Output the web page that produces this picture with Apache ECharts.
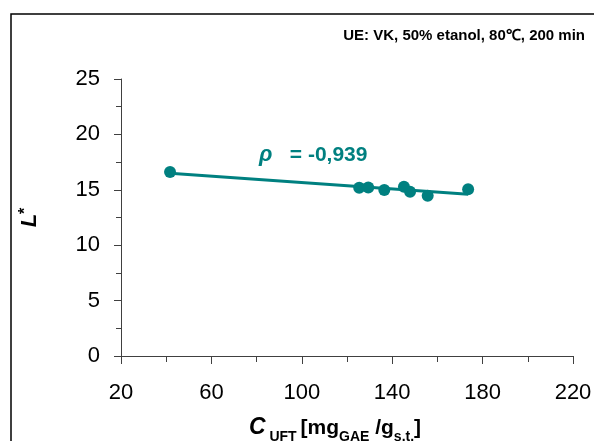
<!DOCTYPE html>
<html><head><meta charset="utf-8">
<script src="https://cdn.jsdelivr.net/npm/echarts@6/dist/echarts.min.js"></script>
<style>html,body{margin:0;padding:0;background:#fff}#c{width:594px;height:441px}</style>
</head><body><div id="c"></div>
<script>
var cuft = [41.7, 125.4, 129.4, 136.5, 145.2, 147.9, 155.7, 173.6];
var lstar = [16.6, 15.19, 15.2, 14.98, 15.28, 14.83, 14.47, 15.04];
var xMajorTicks = [20, 60, 100, 140, 180, 220];
var xMinorTicks = [40, 80, 120, 160, 200];
var titleText = 'UE: VK, 50% etanol, 80\u2103, 200 min';
var rhoText = '= -0,939';
var teal = '#008080';
var FONT = 'Arial, "Liberation Sans", sans-serif';

var pts = cuft.map(function (x, i) { return [x, lstar[i]]; });
var n = cuft.length, mx = 0, my = 0;
for (var i = 0; i < n; i++) { mx += cuft[i]; my += lstar[i]; }
mx /= n; my /= n;
var sxy = 0, sxx = 0;
for (i = 0; i < n; i++) { sxy += (cuft[i] - mx) * (lstar[i] - my); sxx += (cuft[i] - mx) * (cuft[i] - mx); }
var slope = sxy / sxx, icpt = my - slope * mx;
var x0 = Math.min.apply(null, cuft), x1 = Math.max.apply(null, cuft);
var fit = [[x0, icpt + slope * x0], [x1, icpt + slope * x1]];

var axisCol = '#404040';
var chart = echarts.init(document.getElementById('c'), null, {renderer: 'canvas'});
chart.setOption({
  animation: false,
  grid: {left: 121, right: 21, top: 79, bottom: 85, outerBoundsMode: 'none', containLabel: false},
  xAxis: [{
    type: 'value', min: 20, max: 220,
    axisLine: {show: true, lineStyle: {color: axisCol, width: 1}},
    axisTick: {show: true, inside: false, length: 8, customValues: xMajorTicks, lineStyle: {color: axisCol}},
    axisLabel: {customValues: xMajorTicks, margin: 26, color: '#000', fontSize: 22, fontFamily: FONT},
    splitLine: {show: false},
    name: '{c|C}{sub| UFT }{m|[mg}{sub|GAE}{m| /g}{sub|s.t.}{m|]}',
    nameLocation: 'middle', nameGap: 57,
    nameTextStyle: {
      fontFamily: FONT, color: '#000', padding: [0, 24, 0, 0],
      rich: {
        c: {fontSize: 23, fontWeight: 'bold', fontStyle: 'italic', fontFamily: FONT, lineHeight: 26, verticalAlign: 'bottom'},
        m: {fontSize: 21, fontWeight: 'bold', fontFamily: FONT, lineHeight: 26, verticalAlign: 'bottom'},
        sub: {fontSize: 14, fontWeight: 'bold', fontFamily: FONT, lineHeight: 14, verticalAlign: 'bottom', padding: [0, 0, -5, 0]}
      }
    }
  }, {
    type: 'value', min: 20, max: 220, position: 'bottom',
    axisLine: {show: false},
    axisTick: {show: true, inside: false, length: 6, customValues: xMinorTicks, lineStyle: {color: axisCol}},
    axisLabel: {show: false},
    splitLine: {show: false}
  }],
  yAxis: {
    type: 'value', min: 0, max: 25, interval: 5,
    axisLine: {show: true, lineStyle: {color: axisCol, width: 1}},
    axisTick: {show: true, inside: false, length: 7, lineStyle: {color: axisCol}},
    minorTick: {show: true, splitNumber: 2, length: 5, lineStyle: {color: axisCol}},
    axisLabel: {margin: 21, color: '#000', fontSize: 22, fontFamily: FONT},
    splitLine: {show: false},
    name: '{l|L}{s|*}',
    nameLocation: 'middle', nameRotate: 90, nameGap: 79,
    nameTextStyle: {
      rich: {
        l: {fontSize: 22, fontWeight: 'bold', fontStyle: 'italic', fontFamily: FONT, color: '#000', lineHeight: 24},
        s: {fontSize: 16, fontWeight: 'bold', fontFamily: FONT, color: '#000', lineHeight: 24, verticalAlign: 'top', padding: [0, 0, 6, 0]}
      }
    }
  },
  series: [{
    type: 'line', data: fit, showSymbol: false, symbol: 'none',
    lineStyle: {color: teal, width: 3}, z: 2
  }, {
    type: 'scatter', data: pts, symbol: 'circle', symbolSize: 12,
    itemStyle: {color: teal, opacity: 1}, z: 3
  }],
  graphic: [{
    type: 'rect', shape: {x: 11, y: 14, width: 700, height: 600},
    style: {fill: 'none', stroke: '#000', lineWidth: 1.5}, silent: true
  }, {
    type: 'text', right: 9, top: 28,
    style: {text: titleText, font: 'bold 15px ' + FONT, fill: '#000'}
  }, {
    type: 'text', left: 259, top: 144,
    style: {
      text: '{r|\u03c1}{t|   ' + rhoText + '}',
      rich: {
        r: {font: 'italic bold 22px ' + FONT, fill: teal},
        t: {font: 'bold 21px ' + FONT, fill: teal}
      }
    }
  }]
});
</script>
</body></html>
